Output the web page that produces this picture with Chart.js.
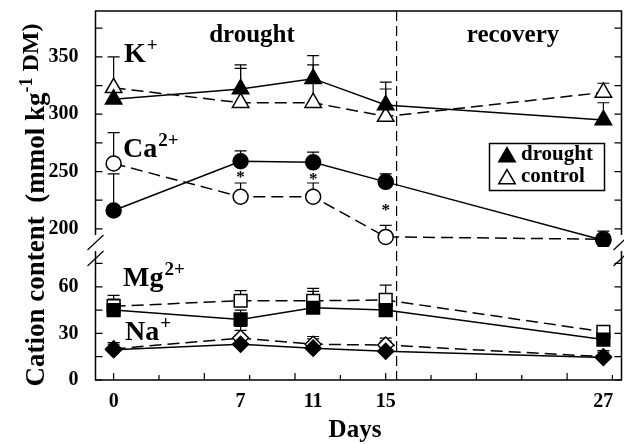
<!DOCTYPE html>
<html>
<head>
<meta charset="utf-8">
<script src="https://cdn.jsdelivr.net/npm/chart.js@4.4.1/dist/chart.umd.min.js"></script>
<style>
  html, body { margin: 0; padding: 0; background: #fff; }
</style>
</head>
<body>
<canvas id="myChart" width="624" height="444"></canvas>
<script>
// days of sampling
const days = [0, 7, 11, 15, 27];

// upper panel (mmol/kg DM)
const kDrought = [313, 322, 331, 308, 295];
const kDroughtErr = [6, 21, 20, 20, 15];
const kControl = [323, 310, 310, 298, 319];
const kControlErr = [27, 30, 33, 24, 8];
const caDrought = [216, 259, 258, 241, 190];
const caDroughtErr = [32, 9, 9, 7, 8];
const caControl = [257, 228, 228, 193, 191];
const caControlErr = [27, 12, 12, 10, 3];

// lower panel
const mgDrought = [45, 39, 46.5, 45, 26];
const mgDroughtErr = [7, 6, 10.5, 8, 7];
const mgControl = [47.5, 51, 51, 51.5, 31];
const mgControlErr = [7, 6.5, 8, 9.5, 4];
const naDrought = [19.5, 23, 20.5, 18.5, 14.5];
const naDroughtErr = [4.5, 9, 6, 6.5, 4.5];
const naControl = [20, 27, 23, 22.5, 15];
const naControlErr = [3, 7.5, 5, 4.5, 3];

// tick labels
const dayTicks = [0, 7, 11, 15, 27];
const upperTicks = [200, 250, 300, 350];
const lowerTicks = [0, 30, 60];

// significant differences (day, value on upper axis)
const starDays = [7, 11, 15];
const starValues = [247.5, 246, 218.5];

const FONT = "'Liberation Serif', 'DejaVu Serif', serif";

function pts(ys) {
    return days.map((d, i) => ({ x: d, y: ys[i] }));
}

function series(label, ys, err, axis, style, radius, filled) {
    return {
        label: label,
        data: pts(ys),
        err: err,
        yAxisID: axis,
        borderColor: '#000',
        borderWidth: 1.5,
        borderDash: filled ? [] : [12, 6],
        pointStyle: style,
        pointRadius: radius,
        pointHoverRadius: radius,
        pointBackgroundColor: filled ? '#000' : '#fff',
        pointBorderColor: '#000',
        pointBorderWidth: 1.5,
        tension: 0,
        fill: false
    };
}

// no extra label padding, the frame is placed by layout.padding
function noPad(s) {
    s.paddingTop = 0;
    s.paddingBottom = 0;
    s.paddingLeft = 0;
    s.paddingRight = 0;
}

// error bars (upper half only), drawn behind the markers
const errorBars = {
    id: 'errorBars',
    beforeDatasetsDraw(chart) {
        const ctx = chart.ctx;
        const xs = chart.scales.x;
        ctx.save();
        ctx.strokeStyle = '#000';
        ctx.lineWidth = 1.2;
        chart.data.datasets.forEach(ds => {
            const ys = chart.scales[ds.yAxisID];
            ds.data.forEach((p, i) => {
                const e = ds.err[i];
                if (!e) return;
                const px = xs.getPixelForValue(p.x);
                const y0 = ys.getPixelForValue(p.y);
                const y1 = ys.getPixelForValue(p.y + e);
                ctx.beginPath();
                ctx.moveTo(px, y0);
                ctx.lineTo(px, y1);
                ctx.moveTo(px - 6, y1);
                ctx.lineTo(px + 6, y1);
                ctx.stroke();
            });
        });
        // drought / recovery divider
        const a = chart.chartArea;
        const dx = xs.getPixelForValue(15.6);
        ctx.setLineDash([10, 5]);
        ctx.beginPath();
        ctx.moveTo(dx, a.top);
        ctx.lineTo(dx, a.bottom);
        ctx.stroke();
        ctx.restore();
    }
};

function supText(ctx, x, y, main, sup, size) {
    ctx.font = 'bold ' + size + 'px ' + FONT;
    ctx.fillText(main, x, y);
    const w = ctx.measureText(main).width;
    ctx.font = 'bold ' + Math.round(size * 0.68) + 'px ' + FONT;
    ctx.fillText(sup, x + w + 1, y - size * 0.4);
}

// frame with axis break, inward ticks, labels, legend
const decorations = {
    id: 'decorations',
    afterDraw(chart) {
        const ctx = chart.ctx;
        const a = chart.chartArea;
        const xs = chart.scales.x;
        const yu = chart.scales.yUp;
        const yl = chart.scales.yLow;
        const gapTop = yu.bottom - 12;
        const gapBot = yl.top + 4;
        ctx.save();
        ctx.strokeStyle = '#000';
        ctx.fillStyle = '#000';
        ctx.lineWidth = 1.5;
        ctx.beginPath();
        ctx.moveTo(a.left, gapTop);
        ctx.lineTo(a.left, a.top);
        ctx.lineTo(a.right, a.top);
        ctx.lineTo(a.right, gapTop);
        ctx.moveTo(a.left, gapBot);
        ctx.lineTo(a.left, a.bottom);
        ctx.lineTo(a.right, a.bottom);
        ctx.lineTo(a.right, gapBot);
        ctx.stroke();
        // break slashes
        ctx.lineWidth = 1.2;
        [a.left, a.right].forEach(x => {
            ctx.beginPath();
            ctx.moveTo(x - 8, gapTop + 15);
            ctx.lineTo(x + 8, gapTop);
            ctx.moveTo(x - 8, gapBot + 15);
            ctx.lineTo(x + 8, gapBot);
            ctx.stroke();
        });
        // inward ticks
        ctx.beginPath();
        for (let v = 0; v <= xs.max; v += 2.5) {
            const px = xs.getPixelForValue(v);
            const len = (v % 5 === 0) ? 7 : 5;
            ctx.moveTo(px, a.bottom);
            ctx.lineTo(px, a.bottom - len);
        }
        for (let v = 200; v < yu.max; v += 25) {
            const py = yu.getPixelForValue(v);
            ctx.moveTo(a.left, py);
            ctx.lineTo(a.left + 7, py);
            ctx.moveTo(a.right, py);
            ctx.lineTo(a.right - 7, py);
        }
        for (let v = 0; v < yl.max - 5; v += 15) {
            const py = yl.getPixelForValue(v);
            ctx.moveTo(a.left, py);
            ctx.lineTo(a.left + 7, py);
            ctx.moveTo(a.right, py);
            ctx.lineTo(a.right - 7, py);
        }
        ctx.stroke();

        // asterisks
        ctx.font = 'bold 17px ' + FONT;
        ctx.textAlign = 'center';
        ctx.textBaseline = 'middle';
        starDays.forEach((d, i) => {
            ctx.fillText('*', xs.getPixelForValue(d), yu.getPixelForValue(starValues[i]) + 3);
        });

        // period labels
        ctx.font = 'bold 25px ' + FONT;
        ctx.fillText('drought', 252, 36);
        ctx.fillText('recovery', 513, 36);

        // ion labels
        ctx.textAlign = 'left';
        ctx.textBaseline = 'alphabetic';
        supText(ctx, 124, 62, 'K', '+', 28);
        supText(ctx, 123, 157, 'Ca', '2+', 28);
        supText(ctx, 123, 286, 'Mg', '2+', 28);
        supText(ctx, 125, 340, 'Na', '+', 28);

        // legend
        ctx.lineWidth = 1.5;
        ctx.strokeRect(489.5, 143.5, 115, 47);
        Chart.helpers.drawPoint(ctx, { pointStyle: 'triangle', radius: 9.5, borderWidth: 1.2 }, 507, 157);
        ctx.fillStyle = '#fff';
        Chart.helpers.drawPoint(ctx, { pointStyle: 'triangle', radius: 9.5, borderWidth: 1.2 }, 507, 179);
        ctx.fillStyle = '#000';
        ctx.font = 'bold 21px ' + FONT;
        ctx.textBaseline = 'middle';
        ctx.fillText('drought', 521, 155);
        ctx.fillText('control', 521, 177);

        // x title
        ctx.textAlign = 'center';
        ctx.font = 'bold 25px ' + FONT;
        ctx.fillText('Days', 355, 431);

        // y title, rotated
        const segs = [
            { t: 'Cation content  (mmol kg', s: 27, dy: 0 },
            { t: '-1', s: 18, dy: -12 },
            { t: ' DM)', s: 24, dy: -6 }
        ];
        let total = 0;
        segs.forEach(sg => {
            ctx.font = 'bold ' + sg.s + 'px ' + FONT;
            sg.w = ctx.measureText(sg.t).width;
            total += sg.w;
        });
        ctx.translate(44, 205);
        ctx.rotate(-Math.PI / 2);
        ctx.textAlign = 'left';
        ctx.textBaseline = 'alphabetic';
        let cx = -total / 2;
        segs.forEach(sg => {
            ctx.font = 'bold ' + sg.s + 'px ' + FONT;
            ctx.fillText(sg.t, cx, sg.dy);
            cx += sg.w;
        });
        ctx.restore();
    }
};

const tickFont = { family: FONT, size: 20, weight: 'bold' };

const ctx = document.getElementById('myChart').getContext('2d');
const chart = new Chart(ctx, {
    type: 'line',
    data: {
        datasets: [
            series('K drought', kDrought, kDroughtErr, 'yUp', 'triangle', 9.5, true),
            series('Ca drought', caDrought, caDroughtErr, 'yUp', 'circle', 7.5, true),
            series('Mg drought', mgDrought, mgDroughtErr, 'yLow', 'rect', 9, true),
            series('Na drought', naDrought, naDroughtErr, 'yLow', 'rectRot', 8, true),
            series('K control', kControl, kControlErr, 'yUp', 'triangle', 9.5, false),
            series('Ca control', caControl, caControlErr, 'yUp', 'circle', 7.5, false),
            series('Mg control', mgControl, mgControlErr, 'yLow', 'rect', 9, false),
            series('Na control', naControl, naControlErr, 'yLow', 'rectRot', 8, false)
        ]
    },
    options: {
        responsive: false,
        animation: false,
        layout: { autoPadding: false, padding: { top: 11, right: 2.5, left: 0, bottom: 0 } },
        plugins: {
            legend: { display: false },
            tooltip: { enabled: false }
        },
        scales: {
            x: {
                type: 'linear',
                min: -1,
                max: 28,
                grid: { display: false },
                border: { display: false },
                afterBuildTicks: s => { s.ticks = dayTicks.map(v => ({ value: v })); },
                afterFit: s => { s.height = 64; noPad(s); },
                ticks: { font: tickFont, color: '#000', padding: 2, autoSkip: false, maxRotation: 0 }
            },
            yLow: {
                type: 'linear',
                position: 'left',
                stack: 'v',
                stackWeight: 133,
                min: 0,
                max: 85.6,
                grid: { display: false },
                border: { display: false },
                afterBuildTicks: s => { s.ticks = lowerTicks.map(v => ({ value: v })); },
                afterFit: s => { s.width = 95.5; noPad(s); },
                ticks: { font: tickFont, color: '#000', padding: 9 }
            },
            yUp: {
                type: 'linear',
                position: 'left',
                stack: 'v',
                stackWeight: 236,
                min: 184.2,
                max: 390,
                grid: { display: false },
                border: { display: false },
                afterBuildTicks: s => { s.ticks = upperTicks.map(v => ({ value: v })); },
                afterFit: s => { s.width = 95.5; noPad(s); },
                ticks: { font: tickFont, color: '#000', padding: 9 }
            }
        }
    },
    plugins: [errorBars, decorations]
});
</script>
</body>
</html>
